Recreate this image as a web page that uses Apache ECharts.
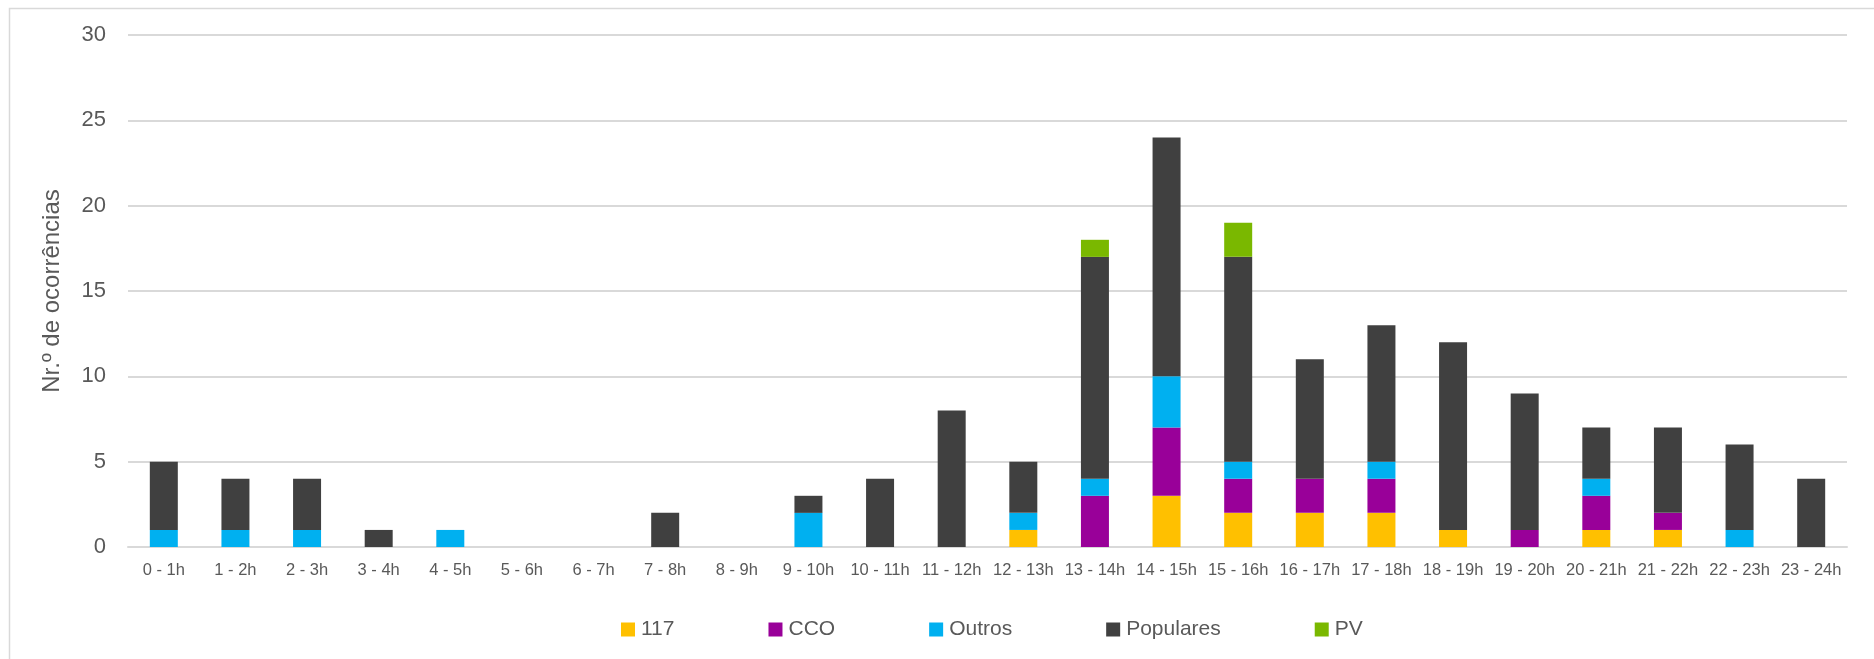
<!DOCTYPE html>
<html>
<head>
<meta charset="utf-8">
<script src="https://cdn.jsdelivr.net/npm/echarts@6/dist/echarts.min.js"></script>
<style>
html,body{margin:0;padding:0;background:#fff;}
#chart{width:1874px;height:659px;}
</style>
</head>
<body>
<div id="chart"></div>
<script>
const categories = ['0 - 1h','1 - 2h','2 - 3h','3 - 4h','4 - 5h','5 - 6h','6 - 7h','7 - 8h','8 - 9h','9 - 10h','10 - 11h','11 - 12h','12 - 13h','13 - 14h','14 - 15h','15 - 16h','16 - 17h','17 - 18h','18 - 19h','19 - 20h','20 - 21h','21 - 22h','22 - 23h','23 - 24h'];
const s117      = [0,0,0,0,0,0,0,0,0,0,0,0,1,0,3,2,2,2,1,0,1,1,0,0];
const sCCO      = [0,0,0,0,0,0,0,0,0,0,0,0,0,3,4,2,2,2,0,1,2,1,0,0];
const sOutros   = [1,1,1,0,1,0,0,0,0,2,0,0,1,1,3,1,0,1,0,0,1,0,1,0];
const sPopulares= [4,3,3,1,0,0,0,2,0,1,4,8,3,13,14,12,7,8,11,8,3,5,5,4];
const sPV       = [0,0,0,0,0,0,0,0,0,0,0,0,0,1,0,2,0,0,0,0,0,0,0,0];
const yTicks = [0,5,10,15,20,25,30];

const seriesNames = ['117','CCO','Outros','Populares','PV'];
const seriesData = [s117, sCCO, sOutros, sPopulares, sPV];
const colors = ['#FFC000','#990099','#00B0F0','#404040','#7AB800'];
const FONT = '"Liberation Sans", Arial, sans-serif';

const chart = echarts.init(document.getElementById('chart'));
chart.setOption({
  animation: false,
  backgroundColor: '#fff',
  color: colors,
  graphic: [{
    type: 'rect', left: 7, top: 6, silent: true,
    shape: { width: 1880, height: 680 },
    style: { fill: 'none', stroke: '#d9d9d9', lineWidth: 1.5 }
  }],
  grid: { left: 128, right: 27, top: 35, bottom: 112, containLabel: false },
  legend: {
    left: 616, top: 614,
    itemWidth: 14, itemHeight: 14, itemGap: 94,
    icon: 'rect',
    textStyle: { fontFamily: FONT, fontSize: 21, color: '#595959', padding: [0,0,0,1] },
    data: seriesNames
  },
  xAxis: {
    type: 'category', data: categories,
    axisLine: { lineStyle: { color: '#d9d9d9', width: 2 } },
    axisTick: { show: false },
    axisLabel: { interval: 0, color: '#595959', fontFamily: FONT, fontSize: 16.5, margin: 15 }
  },
  yAxis: {
    type: 'value', min: yTicks[0], max: yTicks[yTicks.length-1], interval: 5,
    name: 'Nr.º de ocorrências', nameLocation: 'middle', nameGap: 64,
    nameTextStyle: { fontFamily: FONT, fontSize: 24, color: '#595959' },
    axisLine: { show: false }, axisTick: { show: false },
    axisLabel: { color: '#595959', fontFamily: FONT, fontSize: 22, margin: 22 },
    splitLine: { lineStyle: { color: '#d9d9d9', width: 2 } }
  },
  series: seriesNames.map((n, i) => ({
    name: n, type: 'bar', stack: 'total', barWidth: 28,
    data: seriesData[i],
    itemStyle: { color: colors[i] }
  }))
});
</script>
</body>
</html>
